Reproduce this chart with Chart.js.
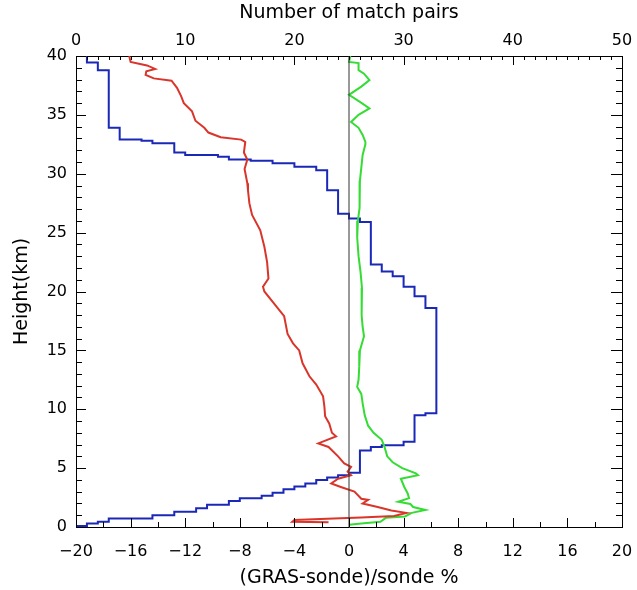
<!DOCTYPE html>
<html>
<head>
<meta charset="utf-8">
<style>
  html, body { margin: 0; padding: 0; background: #fff; }
  #wrap { width: 637px; height: 590px; }
</style>
<script src="https://cdn.jsdelivr.net/npm/chart.js@4.4.1/dist/chart.umd.min.js"></script>
</head>
<body>
<div id="wrap"><canvas id="gras-chart" width="637" height="590"></canvas></div>
<script>
// red profile, (GRAS-sonde)/sonde %, read from the top down
const redHeight = [40.0, 39.5, 39.2, 38.9, 38.7, 38.4, 38.1, 37.9, 37.3, 36.6, 36.0, 35.3, 34.5, 33.9, 33.5, 33.1, 32.9, 32.7,
  31.8, 31.2, 30.4, 29.2, 28.6, 27.5, 26.5, 25.2, 23.8, 22.5, 21.1, 20.4, 20.0, 19.0, 17.9, 16.4, 15.6, 15.0, 13.9, 12.8,
  12.1, 11.1, 10.2, 9.4, 8.8, 8.0, 7.7, 7.1, 6.8, 6.0, 5.4, 5.1, 4.7, 4.4, 4.1, 3.7, 3.4, 3.0, 2.4, 2.3, 2.0, 1.7, 1.4,
  1.2, 0.93, 0.8, 0.7, 0.6, 0.45, 0.4];
const redBias = [-16.1, -16.0, -14.8, -14.2, -14.85, -14.9, -14.3, -13.0, -12.6, -12.3, -12.1, -11.5, -11.25, -10.6, -10.3, -9.4, -7.9, -7.6,
  -7.7, -7.45, -7.65, -7.45, -7.4, -7.3, -7.1, -6.5, -6.2, -6.0, -5.9, -6.3, -6.2, -5.5, -4.75, -4.5, -4.1, -3.65, -3.4, -2.9,
  -2.4, -1.9, -1.8, -1.75, -1.45, -1.25, -0.95, -2.25, -1.5, -0.8, -0.35, 0.15, -0.1, 0.15, -0.8, -1.3, -0.6, 0.4, 0.9, 1.4, 1.0, 2.1, 3.1,
  4.2, 3.3, 0.9, -1.6, -4.0, -4.15, -1.5];

// green profile
const greenHeight = [40.0, 39.5, 39.4, 38.8, 38.5, 37.95, 37.4, 36.7, 36.1, 35.55, 35.0, 34.4, 33.9, 33.3, 32.7, 32.5, 31.6, 30.5,
  29.4, 28.2, 27.1, 26.0, 24.6, 23.0, 21.6, 20.3, 19.0, 18.0, 17.0, 16.2, 15.0, 13.6, 12.5, 11.9, 11.3, 10.5, 9.5, 8.6, 8.0,
  7.4, 6.8, 6.0, 5.5, 5.0, 4.55, 4.4, 4.1, 3.4, 2.85, 2.45, 2.15, 1.95, 1.7, 1.45, 1.2, 0.9, 0.78, 0.45, 0.3, 0.2];
const greenStd = [0.1, 0.0, 0.7, 0.7, 1.1, 1.5, 0.9, 0.0, 0.8, 1.5, 0.7, 0.15, 0.7, 1.0, 1.2, 1.2, 1.0, 0.9,
  0.8, 0.8, 0.75, 0.65, 0.6, 0.7, 0.85, 0.95, 0.9, 0.95, 1.0, 1.1, 0.8, 0.75, 0.7, 0.6, 0.9, 1.0, 1.15, 1.4, 1.8,
  2.4, 2.6, 2.8, 3.2, 3.9, 4.9, 5.05, 3.8, 4.05, 4.3, 4.4, 3.6, 4.5, 4.7, 5.6, 4.6, 4.1, 2.7, 2.3, 0.9, 0.0];

// blue, number of match pairs (top axis): height where the count changes, and the new count
const blueHeight = [40.0, 39.45, 38.8, 33.9, 32.9, 32.8, 32.6, 31.8, 31.6, 31.45, 31.2, 31.1, 30.9, 30.6, 30.3, 28.6, 26.6,
  26.2, 25.9, 22.3, 21.7, 21.3, 20.4, 19.6, 18.6, 9.65, 9.5, 7.25, 6.95, 6.8, 6.5, 4.6, 4.4, 4.2, 4.0, 3.7, 3.45, 3.2, 2.9,
  2.65, 2.45, 2.2, 1.9, 1.6, 1.3, 1.0, 0.72, 0.45, 0.3, 0.08];
const blueCount = [1, 2, 3, 4, 6, 7, 9, 10, 13, 14, 16, 18, 20, 22, 23, 24, 25,
  26, 27, 28, 29, 30, 31, 32, 33, 32, 31, 30, 28, 27, 26, 25, 24, 23, 22, 21, 20, 19, 18,
  17, 15, 14, 12, 11, 9, 7, 3, 2, 1, 0];

// vertical zero reference
const zeroLine = [0, 0];
const zeroHeight = [0, 40];

const toPoints = (xs, ys) => xs.map((x, i) => ({ x: x, y: ys[i] }));

const axisFont = { family: 'DejaVu Sans', size: 16 };
const titleFont = { family: 'DejaVu Sans', size: 19 };
const minusSign = (v) => String(v).replace('-', '\u2212');

// fixed box sizes so the plot frame sits where the original one does
const fixSize = (w, h) => (s) => {
  if (w !== null) s.width = w;
  if (h !== null) s.height = h;
  s.paddingLeft = 0; s.paddingRight = 0; s.paddingTop = 0; s.paddingBottom = 0;
};

// IDL-style tick marks pointing into the plot
const inwardTicks = {
  id: 'inwardTicks',
  afterDraw(chart) {
    const ctx = chart.ctx;
    const { left, right, top, bottom } = chart.chartArea;
    ctx.save();
    ctx.strokeStyle = '#000';
    ctx.lineWidth = 1;
    const marks = (scale, step, major, longLen, shortLen, edge) => {
      for (let v = scale.min; v <= scale.max + 1e-9; v += step) {
        const isMajor = Math.abs(v / major - Math.round(v / major)) < 1e-6;
        const len = isMajor ? longLen : shortLen;
        const p = Math.round(scale.getPixelForValue(v)) + 0.5;
        ctx.beginPath();
        if (edge === 'bottom') { ctx.moveTo(p, bottom); ctx.lineTo(p, bottom - len); }
        if (edge === 'top') { ctx.moveTo(p, top); ctx.lineTo(p, top + len); }
        if (edge === 'left') { ctx.moveTo(left, p); ctx.lineTo(left + len, p); }
        if (edge === 'right') { ctx.moveTo(right, p); ctx.lineTo(right - len, p); }
        ctx.stroke();
      }
    };
    marks(chart.scales.x, 2, 4, 9, 5, 'bottom');
    marks(chart.scales.xTop, 1, 10, 9, 4, 'top');
    marks(chart.scales.y, 1, 5, 10, 6, 'left');
    marks(chart.scales.yRight, 1, 5, 11, 6, 'right');
    ctx.restore();
  }
};

const noGrid = { display: false, drawTicks: false };

const ctx = document.getElementById('gras-chart').getContext('2d');
const grasChart = new Chart(ctx, {
  type: 'line',
  data: {
    datasets: [
      {
        data: toPoints(zeroLine, zeroHeight),
        xAxisID: 'x', yAxisID: 'y',
        borderColor: '#333333', borderWidth: 1, pointRadius: 0
      },
      {
        data: toPoints(redBias, redHeight),
        xAxisID: 'x', yAxisID: 'y',
        borderColor: '#d9352a', borderWidth: 2, pointRadius: 0
      },
      {
        data: toPoints(greenStd, greenHeight),
        xAxisID: 'x', yAxisID: 'y',
        borderColor: '#34dc34', borderWidth: 2, pointRadius: 0
      },
      {
        data: toPoints(blueCount, blueHeight),
        xAxisID: 'xTop', yAxisID: 'y',
        borderColor: '#1a28b8', borderWidth: 2, pointRadius: 0,
        stepped: 'after'
      }
    ]
  },
  options: {
    responsive: false,
    animation: false,
    layout: { padding: 0 },
    plugins: { legend: { display: false }, tooltip: { enabled: false } },
    elements: { line: { tension: 0, fill: false } },
    scales: {
      x: {
        type: 'linear', position: 'bottom', min: -20, max: 20,
        grid: noGrid,
        border: { display: true, color: '#000' },
        ticks: { stepSize: 4, autoSkip: false, maxRotation: 0, color: '#000', font: axisFont, padding: 15, callback: minusSign },
        title: { display: true, text: '(GRAS-sonde)/sonde %', color: '#000', font: titleFont, padding: { bottom: 1 } },
        afterFit: fixSize(null, 63)
      },
      xTop: {
        type: 'linear', position: 'top', min: 0, max: 50,
        grid: noGrid,
        border: { display: true, color: '#000' },
        ticks: { stepSize: 10, autoSkip: false, maxRotation: 0, color: '#000', font: axisFont, padding: 6 },
        title: { display: true, text: 'Number of match pairs', color: '#000', font: titleFont, padding: { top: 2 } },
        afterFit: fixSize(null, 56)
      },
      y: {
        type: 'linear', position: 'left', min: 0, max: 40,
        grid: noGrid,
        border: { display: true, color: '#000' },
        ticks: { stepSize: 5, color: '#000', font: axisFont, padding: 9 },
        title: { display: true, text: 'Height(km)', color: '#000', font: titleFont, padding: { top: 11 } },
        afterFit: fixSize(76, null)
      },
      yRight: {
        type: 'linear', position: 'right', min: 0, max: 40,
        grid: noGrid,
        border: { display: true, color: '#000' },
        ticks: { display: false },
        afterFit: fixSize(15, null)
      }
    }
  },
  plugins: [inwardTicks]
});
</script>
</body>
</html>
